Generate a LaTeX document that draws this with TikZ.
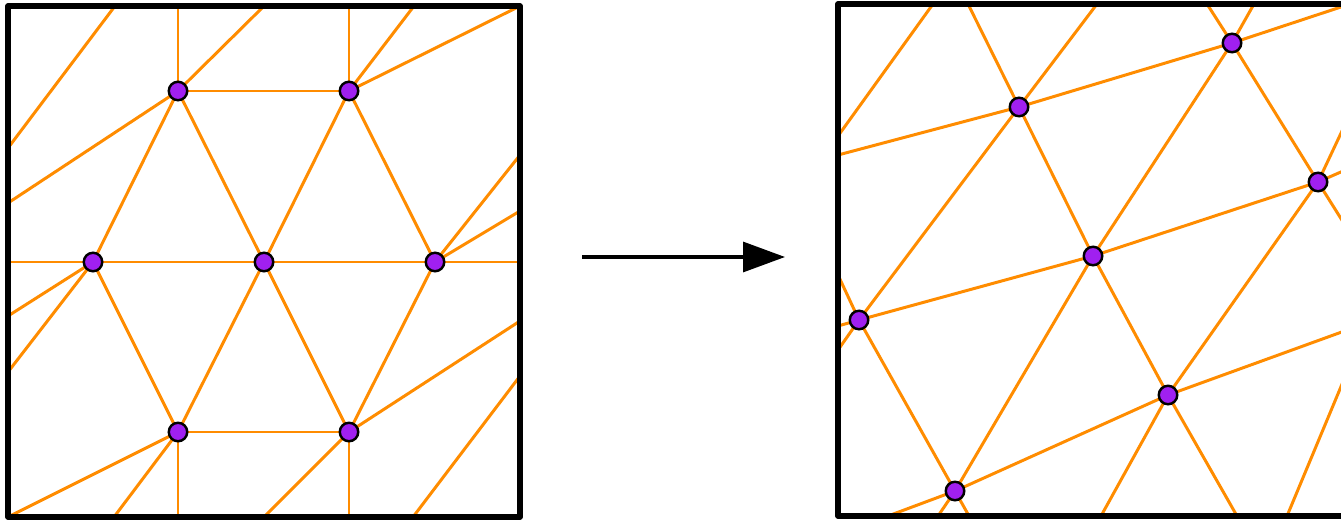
\documentclass[tikz,border=0pt]{standalone}
\usepackage{xcolor}
\definecolor{cEdge}{HTML}{FF8C00}
\definecolor{cPoint}{HTML}{A020F0}
\usepackage{tikz}
\usetikzlibrary{arrows.meta}
\tikzset{
  node-pt/.style={circle,draw=black,fill=cPoint,line width=1.4pt,
    inner sep=0pt,minimum size=3.7mm},
  edge-line/.style={draw=cEdge,line width=1.7pt},
  frame-box/.style={draw=black,line width=3.2pt,line join=round},
  arrow-map/.style={-{Triangle[length=8.4mm,width=6mm]},line width=1.8pt,draw=black},
}

\begin{document}
\begin{tikzpicture}[x=0.02cm,y=-0.02cm]
  \useasboundingbox (0,0) rectangle (1341,520);
  \clip (0,0) rectangle (1341,520);
  % lattice before the map
  \foreach \n/\x/\y in {l1/178/91,l2/349/91,l3/93/262,l4/264/262,
      l5/435/262,l6/178/432,l7/349/432,
      lT1/115/6,lT2/178/6,lT3/264/6,lT4/349/6,lT5/414/6,lT6/520/6,
      lL1/8/148,lL2/8/203,lL3/8/262,lL4/8/316,lL5/8/372,
      lR1/520/155,lR2/520/211,lR3/520/262,lR4/520/321,lR5/520/376,
      lB1/8/517,lB2/114/517,lB3/178/517,lB4/264/517,lB5/349/517,lB6/413/517}
    \coordinate (\n) at (\x,\y);
  % lattice after the map
  \foreach \n/\x/\y in {r1/1019/107,r2/1232/43,r3/1318/182,r4/1093/256,
      r5/859/320,r6/1168/395,r7/955/491,
      rT1/933/4,rT2/968/4,rT3/1097/4,rT4/1207/4,rT5/1254/4,rT6/1350/4,
      rL1/838/136,rL2/838/155,rL3/838/275,rL4/838/326,rL5/838/350,
      rR1/1350/114,rR2/1350/168,rR3/1350/233,rR4/1350/329,rR5/1350/365,
      rB1/888/516,rB2/938/516,rB3/969/516,rB4/1101/516,rB5/1237/516,rB6/1287/516}
    \coordinate (\n) at (\x,\y);

  \foreach \a/\b in {lT1/lL1,l1/lT2,l1/lT3,l2/lT4,l2/lT5,l2/lT6,l1/l2,l1/lL2,
      l1/l3,l1/l4,l2/l4,l2/l5,l5/lR1,l5/lR2,lL3/l3,l3/l4,l4/l5,l5/lR3,
      l3/lL4,l3/lL5,l3/l6,l4/l6,l4/l7,l5/l7,l6/l7,l6/lB1,l6/lB2,l6/lB3,
      l7/lB4,l7/lB5,l7/lR4,lR5/lB6}
    \draw[edge-line] (\a) -- (\b);
  \foreach \a/\b in {rT1/rL1,rT2/r1,r1/r4,r4/r6,r6/rB5,rT3/r1,r1/r5,r5/rL5,
      rL2/r1,r1/r2,r2/rT6,rT4/r2,r2/r3,r3/rR3,rT5/r2,r2/r4,r4/r7,r7/rB2,
      rR1/r3,r3/r6,r6/rB4,rL4/r5,r5/r4,r4/r3,r3/rR2,rR5/rB6,
      rR4/r6,r6/r7,r7/rB1,rL3/r5,r5/r7,r7/rB3}
    \draw[edge-line] (\a) -- (\b);

  \draw[frame-box] (8,6) rectangle (520,517);
  \draw[frame-box] (838,4) rectangle (1350,516);

  \foreach \n in {l1,l2,l3,l4,l5,l6,l7,r1,r2,r3,r4,r5,r6,r7}
    \node[node-pt] (\n-pt) at (\n) {};

  \coordinate (map-from) at (582,257);
  \coordinate (map-to) at (785,257);
  \draw[arrow-map] (map-from) -- (map-to);
\end{tikzpicture}
\end{document}
